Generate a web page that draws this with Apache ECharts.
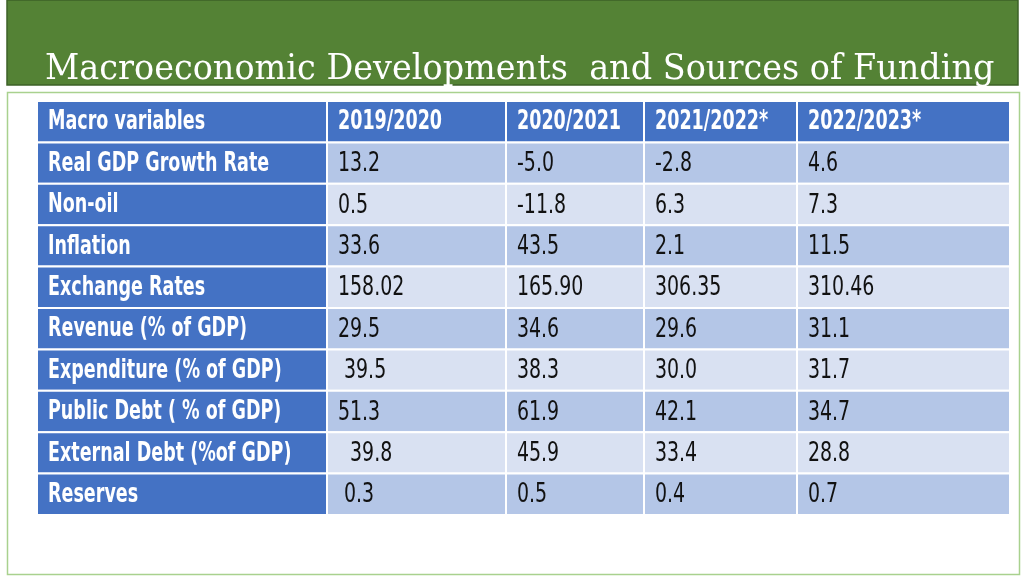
<!DOCTYPE html>
<html>
<head>
<meta charset="utf-8">
<script src="https://cdn.jsdelivr.net/npm/echarts@6/dist/echarts.min.js"></script>
<style>html,body{margin:0;padding:0;background:#fff}#c{width:1024px;height:576px}</style>
</head>
<body>
<div id="c"></div>
<script>
const title = 'Macroeconomic Developments  and Sources of Funding';
const headers = ['Macro variables', '2019/2020', '2020/2021', '2021/2022*', '2022/2023*'];
const variables = ['Real GDP Growth Rate', 'Non-oil', 'Inflation', 'Exchange Rates', 'Revenue (% of GDP)', 'Expenditure (% of GDP)', 'Public Debt ( % of GDP)', 'External Debt (%of GDP)', 'Reserves'];
const fy2019 = ['13.2', '0.5', '33.6', '158.02', '29.5', ' 39.5', '51.3', '  39.8', ' 0.3'];
const fy2020 = ['-5.0', '-11.8', '43.5', '165.90', '34.6', '38.3', '61.9', '45.9', '0.5'];
const fy2021 = ['-2.8', '6.3', '2.1', '306.35', '29.6', '30.0', '42.1', '33.4', '0.4'];
const fy2022 = ['4.6', '7.3', '11.5', '310.46', '31.1', '31.7', '34.7', '28.8', '0.7'];

// layout only (column boundaries in axis units)
const colEdges = [0, 290, 469, 607, 760, 973];

const rows = ['header'].concat(variables);
const columns = [variables, fy2019, fy2020, fy2021, fy2022];
const cells = [];
headers.forEach((h, c) => cells.push({ value: [c, 0], text: h }));
variables.forEach((v, r) => {
  columns.forEach((col, c) => cells.push({ value: [c, r + 1], text: col[r] }));
});

const FONT = "'DejaVu Sans Condensed', 'DejaVu Sans', sans-serif";

const chart = echarts.init(document.getElementById('c'), null, { renderer: 'canvas' });
chart.setOption({
  animation: false,
  backgroundColor: '#ffffff',
  graphic: [
    { type: 'rect', z: -10, shape: { x: 7, y: 0, width: 1011, height: 85 }, style: { fill: '#548235', stroke: '#3d6127', lineWidth: 1.5 } },
    { type: 'rect', z: -10, shape: { x: 7.5, y: 92.5, width: 1012, height: 482 }, style: { fill: 'none', stroke: '#A9D18E', lineWidth: 1.5 } },
    { type: 'text', z: 10, x: 45, y: 70, scaleX: 0.93, style: { x: 0, y: 0, text: title, fill: '#ffffff', font: "36px 'DejaVu Serif', serif", verticalAlign: 'middle' } }
  ],
  grid: { left: 37, right: 14, top: 101, bottom: 61 },
  xAxis: { type: 'value', min: 0, max: 973, show: false },
  yAxis: { type: 'category', data: rows, inverse: true, show: false },
  series: [{
    type: 'custom',
    data: cells,
    renderItem: function (params, api) {
      const c = api.value(0), r = api.value(1);
      const p0 = api.coord([colEdges[c], r]);
      const p1 = api.coord([colEdges[c + 1], r]);
      const h = api.size([0, 1])[1];
      const x = p0[0], y = p0[1] - h / 2, w = p1[0] - p0[0];
      let fill;
      if (r === 0 || c === 0) fill = '#4472C4';
      else fill = (r % 2 === 1) ? '#B4C6E7' : '#D9E1F2';
      const isHead = r === 0 || c === 0;
      const text = cells[params.dataIndex].text;
      return {
        type: 'group',
        children: [
          { type: 'rect', shape: { x: x, y: y, width: w, height: h }, style: { fill: fill, stroke: '#ffffff', lineWidth: 2 } },
          { type: 'text', x: x + 11, y: y + h / 2 + 1, scaleX: isHead ? 0.75 : 0.78,
            style: { x: 0, y: 0, text: text, fill: isHead ? '#ffffff' : '#111111', font: (isHead ? 'bold 26px ' : '27px ') + FONT, verticalAlign: 'middle', align: 'left' } }
        ]
      };
    }
  }]
});
</script>
</body>
</html>
